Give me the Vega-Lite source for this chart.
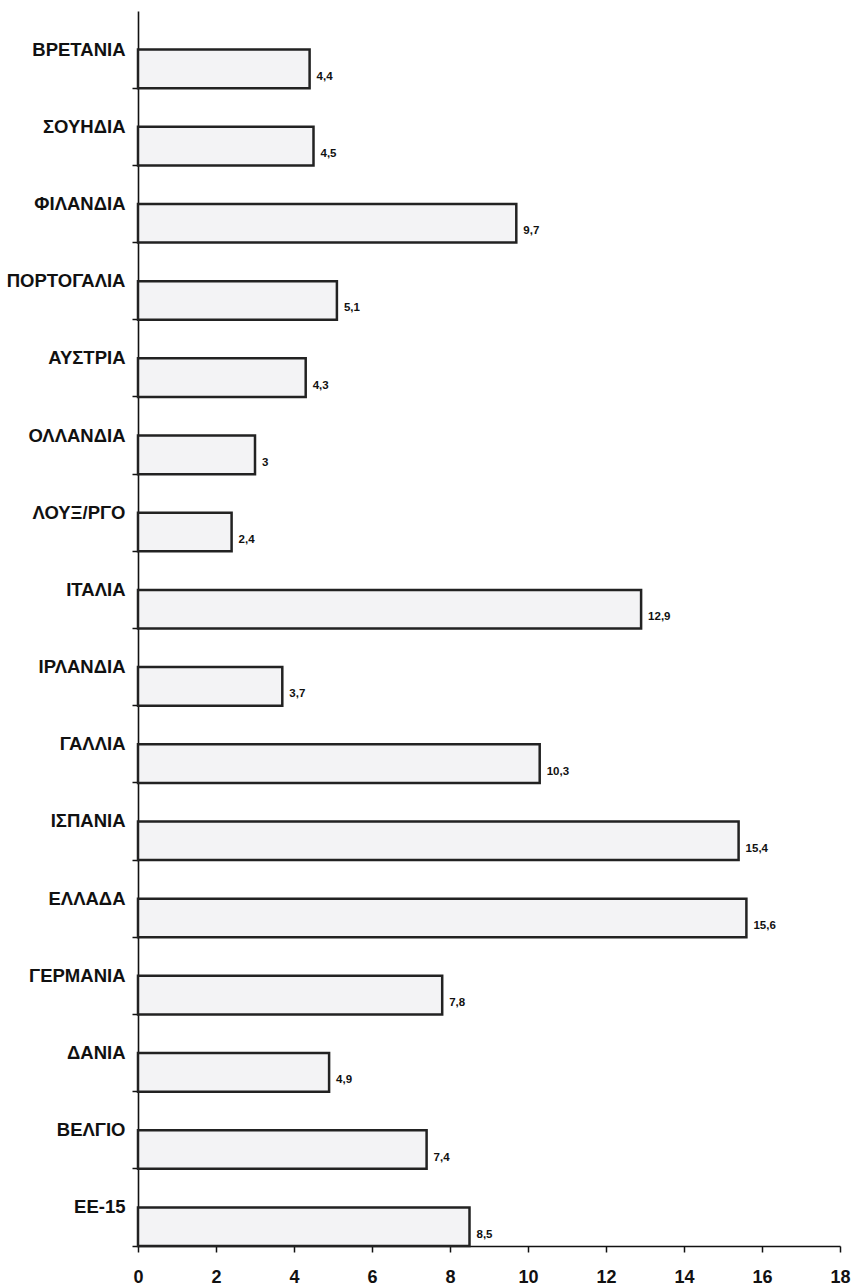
{
  "$schema": "https://vega.github.io/schema/vega-lite/v6.json",
  "width": 702,
  "height": 1235,
  "autosize": {"type": "none"},
  "padding": {"left": 138, "top": 11, "right": 14, "bottom": 39},
  "background": "white",
  "config": {
    "view": {"stroke": null},
    "font": "Liberation Sans",
    "locale": {
      "number": {"decimal": ",", "thousands": ".", "grouping": [3], "currency": ["", " €"]}
    }
  },
  "data": {
    "values": [
      {"country": "ΒΡΕΤΑΝΙΑ", "value": 4.4},
      {"country": "ΣΟΥΗΔΙΑ", "value": 4.5},
      {"country": "ΦΙΛΑΝΔΙΑ", "value": 9.7},
      {"country": "ΠΟΡΤΟΓΑΛΙΑ", "value": 5.1},
      {"country": "ΑΥΣΤΡΙΑ", "value": 4.3},
      {"country": "ΟΛΛΑΝΔΙΑ", "value": 3},
      {"country": "ΛΟΥΞ/ΡΓΟ", "value": 2.4},
      {"country": "ΙΤΑΛΙΑ", "value": 12.9},
      {"country": "ΙΡΛΑΝΔΙΑ", "value": 3.7},
      {"country": "ΓΑΛΛΙΑ", "value": 10.3},
      {"country": "ΙΣΠΑΝΙΑ", "value": 15.4},
      {"country": "ΕΛΛΑΔΑ", "value": 15.6},
      {"country": "ΓΕΡΜΑΝΙΑ", "value": 7.8},
      {"country": "ΔΑΝΙΑ", "value": 4.9},
      {"country": "ΒΕΛΓΙΟ", "value": 7.4},
      {"country": "ΕΕ-15", "value": 8.5}
    ]
  },
  "encoding": {
    "y": {
      "field": "country",
      "type": "nominal",
      "sort": null,
      "scale": {"paddingInner": 0.5, "paddingOuter": 0.25, "align": 1},
      "axis": {
        "title": null,
        "bandPosition": 1,
        "labelOffset": -19.3,
        "labelFont": "Liberation Sans",
        "labelFontSize": 18.5,
        "labelFontWeight": "bold",
        "labelColor": "#111",
        "labelPadding": 7,
        "tickSize": 6,
        "tickWidth": 1.5,
        "tickColor": "#111",
        "domainColor": "#111",
        "domainWidth": 1.6,
        "grid": false
      }
    },
    "x": {
      "field": "value",
      "type": "quantitative",
      "scale": {"domain": [0, 18], "nice": false},
      "axis": {
        "title": null,
        "values": [0, 2, 4, 6, 8, 10, 12, 14, 16, 18],
        "format": "d",
        "labelFont": "Liberation Sans",
        "labelFontSize": 18,
        "labelFontWeight": "bold",
        "labelColor": "#111",
        "labelPadding": 16,
        "tickSize": 6,
        "tickWidth": 1.5,
        "tickColor": "#111",
        "domainColor": "#111",
        "domainWidth": 1.6,
        "grid": false,
        "labelFlush": false
      }
    }
  },
  "layer": [
    {
      "mark": {"type": "bar", "fill": "#f3f3f5", "stroke": "#222", "strokeWidth": 2.5, "cornerRadius": 0}
    },
    {
      "mark": {"type": "text", "align": "left", "baseline": "middle", "dx": 7, "dy": 8, "font": "Liberation Sans", "fontSize": 11.5, "fontWeight": "bold", "color": "#111"},
      "encoding": {
        "text": {"field": "value", "type": "quantitative", "format": ".1~f"}
      }
    }
  ]
}
